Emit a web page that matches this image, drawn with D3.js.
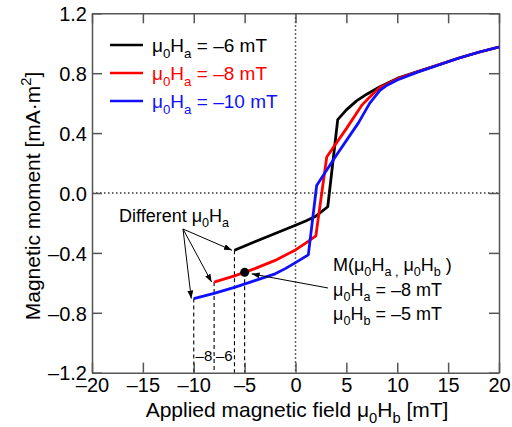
<!DOCTYPE html>
<html>
<head>
<meta charset="utf-8">
<script src="https://cdn.jsdelivr.net/npm/d3@7"></script>
<style>
  body { margin: 0; background: #fff; }
  text { font-family: "Liberation Sans", Arial, sans-serif; fill: #000; }
</style>
</head>
<body>
<svg width="512" height="427"></svg>
<script>
// applied field (mT) and moment (mA·m²) for each starting field Ha
const fieldA6 = [-6, -4, -2, 0, 1, 2, 3.17, 4.15, 5, 6, 7, 8.3, 10, 12, 14, 16, 18, 20]
const momentA6 = [-0.382, -0.326, -0.27, -0.215, -0.187, -0.155, -0.092, 0.49, 0.555, 0.615, 0.66, 0.71, 0.765, 0.81, 0.855, 0.9, 0.94, 0.975]

const fieldA8 = [-8, -6, -5, -4, -2, 0, 1, 2, 3.07, 5, 6.5, 7.5, 8.3, 10, 12, 14, 16, 18, 20]
const momentA8 = [-0.595, -0.553, -0.53, -0.505, -0.45, -0.38, -0.335, -0.286, 0.24, 0.43, 0.585, 0.655, 0.705, 0.762, 0.81, 0.855, 0.9, 0.94, 0.975]

const fieldA10 = [-10, -8, -6, -4, -2, -1, 0, 1.26, 2.08, 4, 6.2, 7.3, 8.3, 9, 10, 12, 14, 16, 18, 20]
const momentA10 = [-0.705, -0.67, -0.63, -0.585, -0.54, -0.505, -0.465, -0.413, 0.05, 0.25, 0.47, 0.6, 0.685, 0.72, 0.755, 0.807, 0.853, 0.9, 0.94, 0.975]

const seriesNames = ['–6', '–8', '–10']
const seriesColors = ['#000000', '#ff0000', '#1010ff']

const xTicks = [-20, -15, -10, -5, 0, 5, 10, 15, 20]
const yTicks = [-1.2, -0.8, -0.4, 0, 0.4, 0.8, 1.2]

// marked point M(Ha, Hb)
const markHa = -8
const markHb = -5
const markM = -0.53

const svg = d3.select('svg')
const font = 19
const tickFont = 20
const titleFont = 21

const x = d3.scaleLinear().domain([-20, 20]).range([92, 499])
const y = d3.scaleLinear().domain([-1.2, 1.2]).range([372.7, 13.3])

const series = [
  { xs: fieldA6, ms: momentA6 },
  { xs: fieldA8, ms: momentA8 },
  { xs: fieldA10, ms: momentA10 }
].map((s, i) => ({
  name: seriesNames[i],
  color: seriesColors[i],
  pts: s.xs.map((v, j) => [v, s.ms[j]])
}))

// text with sub/superscripts
function rich(parent, px, py, size, parts) {
  const t = parent.append('text').attr('x', px).attr('y', py).attr('font-size', size)
  let cur = 0
  parts.forEach(p => {
    const kind = typeof p === 'string' ? 'n' : p[0]
    const str = typeof p === 'string' ? p : p[1]
    let shift = 0
    let fs = size
    if (kind === 'sub') { shift = 0.3 * size; fs = size * 0.7 }
    if (kind === 'sup') { shift = -0.45 * size; fs = size * 0.7 }
    t.append('tspan')
      .attr('dy', shift - cur)
      .attr('font-size', fs)
      .text(str)
    cur = shift
  })
  return t
}

const defs = svg.append('defs')
defs.append('marker')
  .attr('id', 'arrow')
  .attr('markerUnits', 'userSpaceOnUse')
  .attr('markerWidth', 8).attr('markerHeight', 6)
  .attr('refX', 8).attr('refY', 3)
  .attr('orient', 'auto')
  .append('path')
  .attr('d', 'M0,0L8,3L0,6Z')
  .attr('fill', '#000')

// zero reference lines
svg.append('line')
  .attr('x1', x(-20)).attr('x2', x(20))
  .attr('y1', y(0)).attr('y2', y(0))
  .attr('stroke', '#333').attr('stroke-width', 1.5)
  .attr('stroke-dasharray', '1.5,2.5')
svg.append('line')
  .attr('x1', x(0)).attr('x2', x(0))
  .attr('y1', y(1.2)).attr('y2', y(-1.2))
  .attr('stroke', '#333').attr('stroke-width', 1.5)
  .attr('stroke-dasharray', '1.5,2.5')

// dashed drop lines from starting points and marked point
const drops = series.map(s => s.pts[0]).concat([[markHb, markM]])
svg.selectAll('.drop')
  .data(drops)
  .enter().append('line')
  .attr('class', 'drop')
  .attr('x1', d => x(d[0])).attr('x2', d => x(d[0]))
  .attr('y1', d => y(d[1])).attr('y2', y(-1.2))
  .attr('stroke', '#000').attr('stroke-width', 1.1)
  .attr('stroke-dasharray', '4,3')

// axes
const axisG = svg.append('g').attr('stroke-width', 1.5)
const fmtY = d => d3.format('.1f')(d).replace('−', '–')
const fmtX = d => d3.format('d')(d).replace('−', '–')

axisG.append('g')
  .attr('transform', `translate(0,${y(-1.2)})`)
  .call(d3.axisBottom(x).tickValues(xTicks).tickFormat(fmtX).tickSizeInner(-10).tickSizeOuter(0).tickPadding(5))
axisG.append('g')
  .attr('transform', `translate(0,${y(1.2)})`)
  .call(d3.axisTop(x).tickValues(xTicks).tickFormat('').tickSizeInner(-10).tickSizeOuter(0))
axisG.append('g')
  .attr('class', 'yaxis')
  .attr('transform', `translate(${x(-20)},0)`)
  .call(d3.axisLeft(y).tickValues(yTicks).tickFormat(fmtY).tickSizeInner(-10).tickSizeOuter(0).tickPadding(5))
axisG.append('g')
  .attr('transform', `translate(${x(20)},0)`)
  .call(d3.axisRight(y).tickValues(yTicks).tickFormat('').tickSizeInner(-10).tickSizeOuter(0))

axisG.selectAll('.domain').attr('stroke', '#555')
axisG.selectAll('.tick line').attr('stroke', '#555')
axisG.selectAll('.tick text')
  .attr('font-size', tickFont)
  .attr('font-family', '"Liberation Sans", Arial, sans-serif')
  .attr('fill', '#000')
axisG.selectAll('.yaxis .tick text').attr('dy', '0.36em')

// curves
const line = d3.line().x(d => x(d[0])).y(d => y(d[1]))
svg.selectAll('.curve')
  .data(series)
  .enter().append('path')
  .attr('class', 'curve')
  .attr('d', d => line(d.pts))
  .attr('fill', 'none')
  .attr('stroke', d => d.color)
  .attr('stroke-width', 2.8)
  .attr('stroke-linejoin', 'round')

// marked point
svg.append('circle')
  .attr('cx', x(markHb)).attr('cy', y(markM))
  .attr('r', 4.5).attr('fill', '#000')

// legend
const legend = svg.append('g')
series.forEach((s, i) => {
  const ly = 45 + i * 28
  legend.append('line')
    .attr('x1', 110).attr('x2', 143)
    .attr('y1', ly).attr('y2', ly)
    .attr('stroke', s.color).attr('stroke-width', 2.6)
  rich(legend, 152, ly + 7, font, ['μ', ['sub', '0'], 'H', ['sub', 'a'], ` = ${s.name} mT`])
    .attr('fill', s.color)
    .selectAll('tspan').style('fill', s.color)
})

// "Different μ0Ha" annotation
rich(svg, 119, 222, 18, ['Different μ', ['sub', '0'], 'H', ['sub', 'a']])
svg.selectAll('.diffArrow')
  .data(series)
  .enter().append('line')
  .attr('class', 'diffArrow')
  .attr('x1', 183).attr('y1', 229)
  .attr('x2', d => x(d.pts[0][0]) - 2.5)
  .attr('y2', d => y(d.pts[0][1]))
  .attr('stroke', '#000').attr('stroke-width', 1)
  .attr('marker-end', 'url(#arrow)')

// small dashed-line labels
svg.append('text').attr('x', (x(-10) + x(-8)) / 2).attr('y', 361)
  .attr('font-size', 15).attr('text-anchor', 'middle').text('–8')
svg.append('text').attr('x', (x(-8) + x(-6)) / 2).attr('y', 361)
  .attr('font-size', 15).attr('text-anchor', 'middle').text('–6')

// M(Ha, Hb) annotation
rich(svg, 333, 271, 18, ['M(μ', ['sub', '0'], 'H', ['sub', 'a ,'], ' μ', ['sub', '0'], 'H', ['sub', 'b'], ' )'])
rich(svg, 333, 296, 18, ['μ', ['sub', '0'], 'H', ['sub', 'a'], ` = –${-markHa} mT`])
rich(svg, 333, 320, 18, ['μ', ['sub', '0'], 'H', ['sub', 'b'], ` = –${-markHb} mT`])
svg.append('line')
  .attr('x1', 328).attr('y1', 288)
  .attr('x2', x(markHb) + 7).attr('y2', y(markM) + 1.5)
  .attr('stroke', '#000').attr('stroke-width', 1)
  .attr('marker-end', 'url(#arrow)')

// axis titles
rich(svg, 297, 417, titleFont, ['Applied magnetic field μ', ['sub', '0'], 'H', ['sub', 'b'], ' [mT]'])
  .attr('text-anchor', 'middle')
rich(svg, 0, 0, titleFont, ['Magnetic moment [mA·m', ['sup', '2'], ']'])
  .attr('text-anchor', 'middle')
  .attr('transform', 'translate(40,196) rotate(-90)')
</script>
</body>
</html>
